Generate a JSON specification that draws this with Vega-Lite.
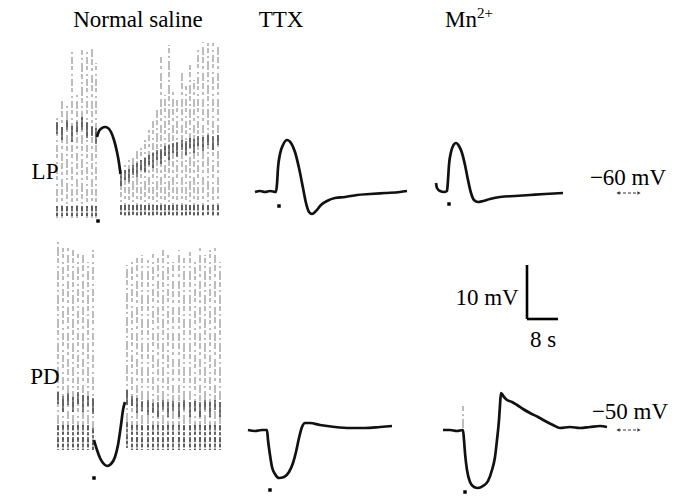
{
  "$schema": "https://vega.github.io/schema/vega-lite/v6.json",
  "width": 680,
  "height": 498,
  "autosize": {"type": "fit", "contains": "padding"},
  "padding": 0,
  "background": "white",
  "config": {"view": {"stroke": null}},
  "datasets": {
    "traces": [
      {"trace": "LP saline", "t": 97, "v": 137}, {"trace": "LP saline", "t": 99, "v": 131}, {"trace": "LP saline", "t": 102, "v": 128}, {"trace": "LP saline", "t": 105, "v": 127}, {"trace": "LP saline", "t": 108, "v": 128}, {"trace": "LP saline", "t": 111, "v": 132}, {"trace": "LP saline", "t": 114, "v": 140}, {"trace": "LP saline", "t": 117, "v": 152}, {"trace": "LP saline", "t": 119, "v": 163}, {"trace": "LP saline", "t": 120.5, "v": 174},
      {"trace": "LP TTX", "t": 255, "v": 192}, {"trace": "LP TTX", "t": 260, "v": 191}, {"trace": "LP TTX", "t": 265, "v": 192}, {"trace": "LP TTX", "t": 270, "v": 191}, {"trace": "LP TTX", "t": 276, "v": 192}, {"trace": "LP TTX", "t": 277, "v": 184}, {"trace": "LP TTX", "t": 278, "v": 168}, {"trace": "LP TTX", "t": 280, "v": 154}, {"trace": "LP TTX", "t": 283, "v": 145}, {"trace": "LP TTX", "t": 287, "v": 140}, {"trace": "LP TTX", "t": 291, "v": 143}, {"trace": "LP TTX", "t": 295, "v": 152}, {"trace": "LP TTX", "t": 299, "v": 168}, {"trace": "LP TTX", "t": 303, "v": 188}, {"trace": "LP TTX", "t": 306, "v": 203}, {"trace": "LP TTX", "t": 309, "v": 212}, {"trace": "LP TTX", "t": 312, "v": 214}, {"trace": "LP TTX", "t": 316, "v": 211}, {"trace": "LP TTX", "t": 321, "v": 205}, {"trace": "LP TTX", "t": 327, "v": 201}, {"trace": "LP TTX", "t": 335, "v": 198}, {"trace": "LP TTX", "t": 345, "v": 197}, {"trace": "LP TTX", "t": 357, "v": 195}, {"trace": "LP TTX", "t": 370, "v": 194}, {"trace": "LP TTX", "t": 385, "v": 193}, {"trace": "LP TTX", "t": 400, "v": 192}, {"trace": "LP TTX", "t": 407, "v": 191},
      {"trace": "LP Mn", "t": 436, "v": 183}, {"trace": "LP Mn", "t": 437, "v": 188}, {"trace": "LP Mn", "t": 440, "v": 191}, {"trace": "LP Mn", "t": 444, "v": 192}, {"trace": "LP Mn", "t": 447, "v": 191}, {"trace": "LP Mn", "t": 448, "v": 180}, {"trace": "LP Mn", "t": 449, "v": 165}, {"trace": "LP Mn", "t": 451, "v": 152}, {"trace": "LP Mn", "t": 453, "v": 146}, {"trace": "LP Mn", "t": 456, "v": 143}, {"trace": "LP Mn", "t": 459, "v": 146}, {"trace": "LP Mn", "t": 462, "v": 153}, {"trace": "LP Mn", "t": 465, "v": 165}, {"trace": "LP Mn", "t": 468, "v": 180}, {"trace": "LP Mn", "t": 471, "v": 193}, {"trace": "LP Mn", "t": 474, "v": 200}, {"trace": "LP Mn", "t": 478, "v": 202}, {"trace": "LP Mn", "t": 483, "v": 201}, {"trace": "LP Mn", "t": 490, "v": 199}, {"trace": "LP Mn", "t": 500, "v": 197}, {"trace": "LP Mn", "t": 515, "v": 196}, {"trace": "LP Mn", "t": 530, "v": 195}, {"trace": "LP Mn", "t": 545, "v": 194}, {"trace": "LP Mn", "t": 563, "v": 193},
      {"trace": "PD saline", "t": 94, "v": 440}, {"trace": "PD saline", "t": 97, "v": 450}, {"trace": "PD saline", "t": 100, "v": 458}, {"trace": "PD saline", "t": 103, "v": 463}, {"trace": "PD saline", "t": 107, "v": 466}, {"trace": "PD saline", "t": 111, "v": 464}, {"trace": "PD saline", "t": 115, "v": 457}, {"trace": "PD saline", "t": 118, "v": 445}, {"trace": "PD saline", "t": 121, "v": 425}, {"trace": "PD saline", "t": 123, "v": 410}, {"trace": "PD saline", "t": 125, "v": 402},
      {"trace": "PD TTX", "t": 248, "v": 430}, {"trace": "PD TTX", "t": 255, "v": 431}, {"trace": "PD TTX", "t": 262, "v": 430}, {"trace": "PD TTX", "t": 267, "v": 430}, {"trace": "PD TTX", "t": 268, "v": 440}, {"trace": "PD TTX", "t": 270, "v": 455}, {"trace": "PD TTX", "t": 272, "v": 467}, {"trace": "PD TTX", "t": 275, "v": 474}, {"trace": "PD TTX", "t": 279, "v": 478}, {"trace": "PD TTX", "t": 284, "v": 477}, {"trace": "PD TTX", "t": 289, "v": 472}, {"trace": "PD TTX", "t": 293, "v": 463}, {"trace": "PD TTX", "t": 296, "v": 452}, {"trace": "PD TTX", "t": 299, "v": 438}, {"trace": "PD TTX", "t": 302, "v": 427}, {"trace": "PD TTX", "t": 305, "v": 423}, {"trace": "PD TTX", "t": 310, "v": 423}, {"trace": "PD TTX", "t": 320, "v": 425}, {"trace": "PD TTX", "t": 335, "v": 427}, {"trace": "PD TTX", "t": 350, "v": 428}, {"trace": "PD TTX", "t": 365, "v": 428}, {"trace": "PD TTX", "t": 380, "v": 427}, {"trace": "PD TTX", "t": 392, "v": 426},
      {"trace": "PD Mn", "t": 443, "v": 430}, {"trace": "PD Mn", "t": 450, "v": 430}, {"trace": "PD Mn", "t": 457, "v": 431}, {"trace": "PD Mn", "t": 463, "v": 430}, {"trace": "PD Mn", "t": 464, "v": 440}, {"trace": "PD Mn", "t": 465, "v": 453}, {"trace": "PD Mn", "t": 467, "v": 470}, {"trace": "PD Mn", "t": 470, "v": 482}, {"trace": "PD Mn", "t": 474, "v": 487}, {"trace": "PD Mn", "t": 478, "v": 488}, {"trace": "PD Mn", "t": 483, "v": 486}, {"trace": "PD Mn", "t": 488, "v": 481}, {"trace": "PD Mn", "t": 492, "v": 470}, {"trace": "PD Mn", "t": 495, "v": 457}, {"trace": "PD Mn", "t": 497, "v": 440}, {"trace": "PD Mn", "t": 499, "v": 420}, {"trace": "PD Mn", "t": 500, "v": 405}, {"trace": "PD Mn", "t": 501, "v": 393}, {"trace": "PD Mn", "t": 504, "v": 397}, {"trace": "PD Mn", "t": 507, "v": 400}, {"trace": "PD Mn", "t": 512, "v": 402}, {"trace": "PD Mn", "t": 517, "v": 405}, {"trace": "PD Mn", "t": 523, "v": 409}, {"trace": "PD Mn", "t": 530, "v": 413}, {"trace": "PD Mn", "t": 538, "v": 417}, {"trace": "PD Mn", "t": 547, "v": 422}, {"trace": "PD Mn", "t": 553, "v": 425}, {"trace": "PD Mn", "t": 560, "v": 428}, {"trace": "PD Mn", "t": 570, "v": 427}, {"trace": "PD Mn", "t": 580, "v": 428}, {"trace": "PD Mn", "t": 590, "v": 427}, {"trace": "PD Mn", "t": 600, "v": 426}, {"trace": "PD Mn", "t": 607, "v": 427}
    ],
    "spikes": [
      {"t": 57, "lo": 218, "hi": 118, "d1": 122, "d2": 134, "b1": 206},
      {"t": 62, "lo": 218, "hi": 97, "d1": 127, "d2": 140, "b1": 206},
      {"t": 67, "lo": 218, "hi": 103, "d1": 120, "d2": 130, "b1": 206},
      {"t": 72, "lo": 218, "hi": 52, "d1": 126, "d2": 142, "b1": 206},
      {"t": 77, "lo": 218, "hi": 95, "d1": 122, "d2": 132, "b1": 206},
      {"t": 82, "lo": 218, "hi": 48, "d1": 117, "d2": 130, "b1": 206},
      {"t": 87, "lo": 218, "hi": 50, "d1": 122, "d2": 138, "b1": 206},
      {"t": 92, "lo": 218, "hi": 47, "d1": 126, "d2": 136, "b1": 206},
      {"t": 96, "lo": 218, "hi": 63, "d1": 128, "d2": 144, "b1": 206},
      {"t": 121, "lo": 216, "hi": 170, "d1": 174, "d2": 186, "b1": 205},
      {"t": 125, "lo": 216, "hi": 165, "d1": 170, "d2": 180, "b1": 205},
      {"t": 129, "lo": 216, "hi": 160, "d1": 169, "d2": 182, "b1": 205},
      {"t": 133, "lo": 216, "hi": 158, "d1": 165, "d2": 175, "b1": 205},
      {"t": 137, "lo": 216, "hi": 150, "d1": 163, "d2": 177, "b1": 205},
      {"t": 141, "lo": 216, "hi": 148, "d1": 160, "d2": 170, "b1": 205},
      {"t": 145, "lo": 216, "hi": 140, "d1": 158, "d2": 172, "b1": 205},
      {"t": 149, "lo": 216, "hi": 130, "d1": 155, "d2": 165, "b1": 205},
      {"t": 153, "lo": 216, "hi": 120, "d1": 153, "d2": 168, "b1": 205},
      {"t": 157, "lo": 216, "hi": 110, "d1": 150, "d2": 160, "b1": 205},
      {"t": 161, "lo": 216, "hi": 55, "d1": 149, "d2": 164, "b1": 205},
      {"t": 165, "lo": 216, "hi": 95, "d1": 146, "d2": 156, "b1": 205},
      {"t": 169, "lo": 216, "hi": 45, "d1": 145, "d2": 160, "b1": 205},
      {"t": 173, "lo": 216, "hi": 90, "d1": 143, "d2": 153, "b1": 205},
      {"t": 177, "lo": 216, "hi": 100, "d1": 142, "d2": 157, "b1": 205},
      {"t": 182, "lo": 216, "hi": 72, "d1": 140, "d2": 150, "b1": 205},
      {"t": 186, "lo": 216, "hi": 85, "d1": 141, "d2": 155, "b1": 205},
      {"t": 190, "lo": 216, "hi": 65, "d1": 138, "d2": 148, "b1": 205},
      {"t": 194, "lo": 216, "hi": 80, "d1": 139, "d2": 153, "b1": 205},
      {"t": 198, "lo": 216, "hi": 50, "d1": 136, "d2": 146, "b1": 205},
      {"t": 203, "lo": 216, "hi": 42, "d1": 137, "d2": 151, "b1": 205},
      {"t": 208, "lo": 216, "hi": 43, "d1": 135, "d2": 145, "b1": 205},
      {"t": 213, "lo": 216, "hi": 43, "d1": 136, "d2": 150, "b1": 205},
      {"t": 218, "lo": 216, "hi": 47, "d1": 135, "d2": 145, "b1": 205},
      {"t": 58, "lo": 450, "hi": 240, "d1": 392, "d2": 404, "b1": 425},
      {"t": 63, "lo": 450, "hi": 248, "d1": 396, "d2": 412, "b1": 425},
      {"t": 68, "lo": 450, "hi": 248, "d1": 393, "d2": 405, "b1": 425},
      {"t": 73, "lo": 450, "hi": 250, "d1": 397, "d2": 412, "b1": 425},
      {"t": 78, "lo": 450, "hi": 252, "d1": 392, "d2": 404, "b1": 425},
      {"t": 83, "lo": 450, "hi": 255, "d1": 395, "d2": 412, "b1": 425},
      {"t": 88, "lo": 450, "hi": 262, "d1": 396, "d2": 406, "b1": 425},
      {"t": 93, "lo": 450, "hi": 250, "d1": 398, "d2": 414, "b1": 428},
      {"t": 127, "lo": 448, "hi": 265, "d1": 390, "d2": 405, "b1": 422},
      {"t": 132, "lo": 450, "hi": 262, "d1": 396, "d2": 406, "b1": 425},
      {"t": 137, "lo": 450, "hi": 258, "d1": 398, "d2": 413, "b1": 425},
      {"t": 142, "lo": 450, "hi": 255, "d1": 401, "d2": 411, "b1": 425},
      {"t": 148, "lo": 450, "hi": 260, "d1": 400, "d2": 415, "b1": 425},
      {"t": 153, "lo": 450, "hi": 252, "d1": 403, "d2": 413, "b1": 425},
      {"t": 158, "lo": 450, "hi": 258, "d1": 402, "d2": 417, "b1": 425},
      {"t": 163, "lo": 450, "hi": 250, "d1": 400, "d2": 410, "b1": 425},
      {"t": 168, "lo": 450, "hi": 255, "d1": 402, "d2": 417, "b1": 425},
      {"t": 173, "lo": 450, "hi": 262, "d1": 401, "d2": 411, "b1": 425},
      {"t": 179, "lo": 450, "hi": 250, "d1": 402, "d2": 417, "b1": 425},
      {"t": 184, "lo": 450, "hi": 258, "d1": 400, "d2": 410, "b1": 425},
      {"t": 190, "lo": 450, "hi": 252, "d1": 402, "d2": 417, "b1": 425},
      {"t": 195, "lo": 450, "hi": 260, "d1": 401, "d2": 411, "b1": 425},
      {"t": 200, "lo": 450, "hi": 248, "d1": 402, "d2": 417, "b1": 425},
      {"t": 205, "lo": 450, "hi": 255, "d1": 400, "d2": 410, "b1": 425},
      {"t": 210, "lo": 450, "hi": 250, "d1": 402, "d2": 417, "b1": 425},
      {"t": 215, "lo": 450, "hi": 248, "d1": 400, "d2": 410, "b1": 425},
      {"t": 220, "lo": 450, "hi": 262, "d1": 402, "d2": 417, "b1": 425},
      {"t": 463, "lo": 430, "hi": 405, "d1": 430, "d2": 430, "b1": 430}
    ],
    "stim": [
      {"t": 98, "v": 221}, {"t": 279, "v": 206}, {"t": 449, "v": 204},
      {"t": 94, "v": 478}, {"t": 270, "v": 490}, {"t": 465, "v": 492}
    ],
    "bars": [
      {"t": 527, "t2": 527, "v": 265, "v2": 319},
      {"t": 527, "t2": 558, "v": 319, "v2": 319}
    ],
    "arrows": [
      {"t": 618, "t2": 639, "v": 193},
      {"t": 618, "t2": 639, "v": 430}
    ],
    "heads": [
      {"t": 618, "v": 193, "dir": "left"}, {"t": 639, "v": 193, "dir": "right"},
      {"t": 618, "v": 430, "dir": "left"}, {"t": 639, "v": 430, "dir": "right"}
    ],
    "labels": [
      {"label": "Normal saline", "t": 138, "v": 20, "kind": "c"},
      {"label": "TTX", "t": 281, "v": 20, "kind": "c"},
      {"label": "Mn", "t": 445, "v": 20, "kind": "l"},
      {"label": "2+", "t": 477, "v": 13, "kind": "s"},
      {"label": "LP", "t": 45, "v": 172, "kind": "c"},
      {"label": "PD", "t": 45, "v": 377, "kind": "c"},
      {"label": "−60 mV", "t": 628, "v": 178, "kind": "c"},
      {"label": "−50 mV", "t": 630, "v": 412, "kind": "c"},
      {"label": "10 mV", "t": 487, "v": 298, "kind": "c"},
      {"label": "8 s", "t": 543, "v": 340, "kind": "c"}
    ]
  },
  "encoding": {
    "x": {"field": "t", "type": "quantitative", "scale": {"domain": [0, 680], "nice": false, "zero": false}, "axis": null},
    "y": {"field": "v", "type": "quantitative", "scale": {"domain": [0, 498], "reverse": true, "nice": false, "zero": false}, "axis": null}
  },
  "layer": [
    {
      "data": {"name": "spikes"},
      "transform": [{"filter": "datum.t % 3 === 0"}],
      "mark": {"type": "rule", "color": "#7a7a7a", "strokeWidth": 1, "strokeDash": [7, 3, 2, 4, 4, 2], "strokeDashOffset": 0},
      "encoding": {"y": {"field": "lo", "type": "quantitative"}, "y2": {"field": "hi"}}
    },
    {
      "data": {"name": "spikes"},
      "transform": [{"filter": "datum.t % 3 === 1"}],
      "mark": {"type": "rule", "color": "#7a7a7a", "strokeWidth": 1, "strokeDash": [5, 2, 9, 3, 2, 3], "strokeDashOffset": 5},
      "encoding": {"y": {"field": "lo", "type": "quantitative"}, "y2": {"field": "hi"}}
    },
    {
      "data": {"name": "spikes"},
      "transform": [{"filter": "datum.t % 3 === 2"}],
      "mark": {"type": "rule", "color": "#7a7a7a", "strokeWidth": 1, "strokeDash": [3, 3, 6, 2, 8, 4], "strokeDashOffset": 9},
      "encoding": {"y": {"field": "lo", "type": "quantitative"}, "y2": {"field": "hi"}}
    },
    {
      "data": {"name": "spikes"},
      "mark": {"type": "rule", "color": "#2a2a2a", "strokeWidth": 1.2},
      "encoding": {"y": {"field": "d1", "type": "quantitative"}, "y2": {"field": "d2"}}
    },
    {
      "data": {"name": "spikes"},
      "mark": {"type": "rule", "color": "#2a2a2a", "strokeWidth": 1.3, "strokeDash": [5, 2, 3, 2]},
      "encoding": {"y": {"field": "b1", "type": "quantitative"}, "y2": {"field": "lo"}}
    },
    {
      "data": {"name": "traces"},
      "mark": {"type": "line", "color": "#111111", "strokeWidth": 2.7, "interpolate": "monotone"},
      "encoding": {"detail": {"field": "trace"}}
    },
    {
      "data": {"name": "stim"},
      "mark": {"type": "square", "color": "black", "filled": true, "size": 12, "opacity": 1},
      "encoding": {}
    },
    {
      "data": {"name": "bars"},
      "mark": {"type": "rule", "color": "black", "strokeWidth": 2.6},
      "encoding": {"x2": {"field": "t2"}, "y2": {"field": "v2"}}
    },
    {
      "data": {"name": "arrows"},
      "mark": {"type": "rule", "color": "#333333", "strokeWidth": 1, "strokeDash": [3, 2]},
      "encoding": {"x2": {"field": "t2"}}
    },
    {
      "data": {"name": "heads"},
      "mark": {"type": "point", "filled": true, "color": "#333333", "size": 14, "opacity": 1},
      "encoding": {"shape": {"field": "dir", "type": "nominal", "scale": {"domain": ["left", "right"], "range": ["triangle-left", "triangle-right"]}, "legend": null}}
    },
    {
      "data": {"name": "labels"},
      "transform": [{"filter": "datum.kind === 'c'"}],
      "mark": {"type": "text", "font": "Liberation Serif", "fontSize": 23, "align": "center", "baseline": "middle", "color": "black"},
      "encoding": {"text": {"field": "label"}}
    },
    {
      "data": {"name": "labels"},
      "transform": [{"filter": "datum.kind === 'l'"}],
      "mark": {"type": "text", "font": "Liberation Serif", "fontSize": 23, "align": "left", "baseline": "middle", "color": "black"},
      "encoding": {"text": {"field": "label"}}
    },
    {
      "data": {"name": "labels"},
      "transform": [{"filter": "datum.kind === 's'"}],
      "mark": {"type": "text", "font": "Liberation Serif", "fontSize": 15, "align": "left", "baseline": "middle", "color": "black"},
      "encoding": {"text": {"field": "label"}}
    }
  ]
}
